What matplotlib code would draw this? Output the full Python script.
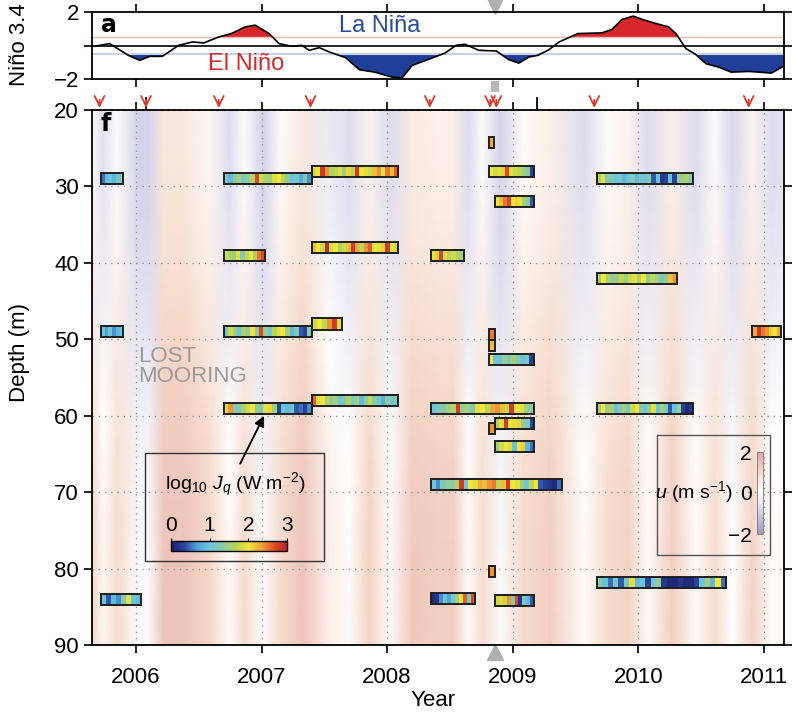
import numpy as np
import matplotlib.pyplot as plt
from matplotlib.colors import LinearSegmentedColormap
from matplotlib.patches import Rectangle
from matplotlib.cm import ScalarMappable
from matplotlib.colors import Normalize

plt.rcParams['font.family'] = ['Liberation Sans', 'DejaVu Sans']
plt.rcParams['mathtext.fontset'] = 'custom'
plt.rcParams['mathtext.rm'] = 'Liberation Sans'
plt.rcParams['mathtext.it'] = 'Liberation Sans:italic'

# Nino 3.4 index
nino_years = [2005.67, 2005.79, 2005.94, 2006.03, 2006.11, 2006.21, 2006.34, 2006.45, 2006.54,
              2006.66, 2006.76, 2006.87, 2006.95, 2007.06, 2007.14, 2007.24, 2007.32, 2007.38,
              2007.46, 2007.54, 2007.67, 2007.78, 2007.90, 2008.04, 2008.12, 2008.20, 2008.33,
              2008.46, 2008.55, 2008.62, 2008.73, 2008.87, 2008.97, 2009.05, 2009.13, 2009.20,
              2009.29, 2009.37, 2009.52, 2009.71, 2009.79, 2009.87, 2009.96, 2010.05, 2010.16,
              2010.24, 2010.30, 2010.38, 2010.45, 2010.54, 2010.64, 2010.74, 2010.88, 2010.96,
              2011.06, 2011.18]
nino_values = [-0.04, 0.12, -0.58, -0.88, -0.64, -0.64, 0.02, 0.22, 0.16,
               0.52, 0.72, 1.12, 1.22, 0.72, 0.12, -0.04, 0.02, -0.28,
               -0.12, -0.38, -0.72, -1.44, -1.58, -1.88, -1.92, -1.18, -0.82,
               -0.45, 0.02, 0.08, -0.28, -0.32, -0.84, -1.04, -0.68, -0.58,
               -0.24, 0.22, 0.72, 0.76, 0.96, 1.56, 1.76, 1.52, 1.28,
               1.12, 0.72, -0.18, -0.48, -1.08, -1.28, -1.58, -1.54, -1.58,
               -1.64, -1.14]

# background zonal velocity u (m/s): time nodes, upper-layer values, depth offsets
u_years = [2005.65, 2005.74, 2005.85, 2006.02, 2006.10, 2006.22, 2006.38, 2006.58, 2006.75,
           2006.86, 2007.01, 2007.15, 2007.33, 2007.54, 2007.70, 2007.86, 2008.02, 2008.20,
           2008.40, 2008.53, 2008.65, 2008.76, 2008.90, 2009.08, 2009.30, 2009.57, 2009.76,
           2009.92, 2010.08, 2010.27, 2010.46, 2010.61, 2010.75, 2010.91, 2011.06, 2011.17]
u_upper = [0.2, -0.6, 0.1, -0.9, -0.9, 0.6, 0.6, 0.2, -0.7,
           0.1, -0.9, 0.1, 0.6, -0.4, -0.7, 0.3, -0.7, 0.5,
           0.4, 0.4, -0.7, 0.1, -0.9, 0.1, 0.4, -0.7, 0.1,
           0.3, -0.7, 0.4, -0.7, 0.1, -0.8, 0.3, -0.7, -0.6]
u_depths = [20, 25, 30, 35, 40, 45, 50, 55, 60, 65, 70, 75, 80, 85, 90]
u_offset = [0.0, 0.0, 0.05, 0.12, 0.2, 0.3, 0.4, 0.5, 0.6, 0.68, 0.75, 0.78, 0.8, 0.8, 0.8]

# turbulent heat flux segments, log10 Jq
bar_start = [2005.72, 2006.70, 2007.40, 2006.70, 2007.40, 2005.72, 2006.70, 2007.40, 2006.70,
             2007.40, 2005.72, 2008.81, 2008.81, 2008.86, 2008.35, 2008.81, 2008.81, 2008.81,
             2008.35, 2008.86, 2008.81, 2008.86, 2008.35, 2008.81, 2008.35, 2008.86, 2009.67,
             2009.67, 2009.67, 2009.67, 2010.91]
bar_end = [2005.90, 2007.40, 2008.09, 2007.03, 2008.09, 2005.90, 2007.40, 2007.64, 2007.40,
           2008.09, 2006.04, 2008.85, 2009.17, 2009.17, 2008.61, 2008.86, 2008.86, 2009.17,
           2009.17, 2009.17, 2008.86, 2009.17, 2009.39, 2008.86, 2008.70, 2009.17, 2010.44,
           2010.31, 2010.44, 2010.70, 2011.14]
bar_depth = [29.0, 29.0, 28.0, 39.0, 38.0, 49.0, 49.0, 48.0, 59.0,
             58.0, 84.0, 24.2, 28.0, 32.0, 39.0, 49.4, 50.8, 52.7,
             59.0, 61.0, 61.7, 64.0, 69.0, 80.4, 83.9, 84.2, 29.0,
             42.0, 59.0, 81.8, 49.0]
bar_values = [
    [0.5, 0.9, 1.0, 0.9, 1.1, 1.3],
    [1.1, 0.9, 1.3, 1.5, 1.2, 1.4, 1.6, 2.7, 1.8, 1.6, 1.5, 1.9, 2.0, 1.7, 1.4, 1.0, 1.1, 0.8, 1.2, 0.6],
    [1.8, 2.0, 2.8, 2.4, 1.6, 1.7, 1.9, 1.5, 2.1, 1.7, 2.8, 2.0, 1.9, 1.8, 2.2, 2.4, 1.9, 2.5, 2.2, 2.6],
    [1.8, 1.6, 1.5, 1.9, 1.3, 1.7, 2.0, 1.6, 2.5, 2.7],
    [2.2, 2.0, 1.8, 2.9, 1.9, 2.0, 1.6, 1.8, 2.2, 2.8, 2.3, 1.7, 2.4, 2.6, 2.0, 1.9, 2.1, 2.8, 2.0, 1.8],
    [1.0, 0.7, 1.1, 0.6, 0.9, 1.0],
    [1.1, 1.8, 1.5, 1.0, 1.6, 1.4, 2.0, 1.3, 2.7, 1.4, 1.1, 1.7, 1.9, 2.0, 1.5, 0.9, 1.2, 0.4, 0.3, 1.3],
    [1.8, 2.0, 1.7, 2.4, 2.8, 1.9],
    [1.9, 2.4, 1.3, 1.2, 1.6, 1.8, 2.0, 1.4, 1.2, 1.9, 2.1, 1.5, 0.3, 1.0, 0.9, 1.1, 0.4, 0.5, 0.3, 0.6],
    [2.6, 1.9, 2.0, 1.6, 1.4, 1.5, 1.0, 1.3, 1.6, 1.2, 1.5, 0.9, 1.4, 1.7, 1.3, 1.1, 0.8, 1.3, 1.1, 1.2],
    [1.0, 0.4, 0.9, 0.6, 1.3, 1.9, 1.0, 0.9],
    [2.3],
    [2.0, 1.8, 1.9, 2.1, 2.7, 1.9, 1.8, 1.7, 1.5, 1.3, 0.3],
    [2.0, 2.2, 2.5, 2.7, 2.0, 2.1, 1.9, 1.6, 1.3, 0.4],
    [1.9, 2.1, 2.7, 1.9, 1.7, 1.8, 1.6, 1.5],
    [2.5],
    [2.2],
    [2.0, 1.0, 1.1, 1.4, 1.2, 1.5, 1.3, 1.0, 1.2, 0.3],
    [1.0, 1.2, 1.3, 1.5, 1.6, 2.8, 1.4, 1.5, 1.3, 1.9, 2.0, 1.7, 2.3, 2.4, 2.2, 1.8, 2.8, 2.0, 1.9, 1.5, 1.3],
    [1.6, 1.9, 2.8, 2.0, 1.9, 2.1, 1.4, 1.2, 0.3],
    [2.4],
    [1.5, 1.8, 2.0, 1.9, 1.0, 2.0, 2.1, 0.9, 0.5],
    [1.0, 0.6, 1.2, 1.4, 1.3, 1.6, 2.8, 1.1, 2.0, 1.9, 2.3, 2.2, 2.4, 2.5, 1.7, 2.2, 2.8, 2.0, 1.9, 1.5,
     1.1, 1.7, 2.0, 0.4, 0.3, 0.2, 0.1, 0.5],
    [2.4],
    [0.1, 0.2, 0.6, 1.0, 0.7, 1.1, 1.5, 2.0, 2.6, 1.2, 2.7],
    [1.8, 2.1, 1.7, 2.4, 1.3, 2.7, 0.2, 1.1, 0.9, 0.4],
    [1.6, 1.9, 1.3, 1.2, 1.0, 1.1, 0.9, 1.0, 1.2, 0.9, 1.1, 1.0, 1.3, 0.4, 1.0, 0.2, 0.3, 1.0, 0.3, 1.4,
     1.5, 1.6, 1.2],
    [1.5, 2.0, 1.6, 1.4, 1.5, 1.7, 1.5, 1.8, 1.9, 1.6, 2.0, 1.4, 1.7, 1.5, 1.2, 1.4, 2.2, 2.4],
    [1.5, 2.0, 1.4, 1.6, 1.0, 1.3, 1.5, 1.2, 1.8, 2.0, 1.3, 1.1, 1.4, 1.9, 1.0, 1.5, 1.2, 0.4, 1.0, 1.4,
     0.3, 0.1, 0.2],
    [1.3, 1.0, 0.5, 1.1, 0.4, 1.2, 1.9, 0.9, 1.0, 0.3, 1.1, 1.4, 0.2, 0.1, 0.1, 0.2, 0.1, 0.1, 0.3, 1.0,
     1.5, 0.9, 2.0, 0.5],
    [2.3, 2.8, 2.5, 2.4, 2.1, 2.0, 2.3],
]

# mooring deployment times (red arrows) and other markers
deploy_years = [2005.71, 2006.08, 2006.66, 2007.39, 2008.34, 2008.82, 2008.87, 2009.65, 2010.88]
black_marks = [2006.08, 2009.19]
event_year = 2008.86

years = [2006, 2007, 2008, 2009, 2010, 2011]
depth_ticks = [20, 30, 40, 50, 60, 70, 80, 90]

jq_cmap = LinearSegmentedColormap.from_list('jq', ['#1c1f6b', '#2a46a0', '#4f9fd6', '#6cc4dc', '#8dc9a6',
                                                    '#b6d45a', '#f2e43a', '#f0a53a', '#e04e2a', '#b51f24'])
u_cmap = LinearSegmentedColormap.from_list('u', ['#9a9ac8', '#cdcde6', '#ffffff', '#f5d8c8', '#e4a6a6'])

fig = plt.figure(figsize=(7.98, 7.13), dpi=100)
ax_top = fig.add_axes([0.1153, 0.889, 0.867, 0.094])
ax = fig.add_axes([0.1153, 0.0954, 0.867, 0.7503])
xlim = (2005.65, 2011.16)

# ---- top panel
nv = np.array(nino_values)
ax_top.fill_between(nino_years, 0.5, nv, where=nv > 0.5, interpolate=True, color='#d7272a', lw=0)
ax_top.fill_between(nino_years, -0.5, nv, where=nv < -0.5, interpolate=True, color='#1f3f99', lw=0)
ax_top.axhline(0.5, color='#f0b8b0', lw=1)
ax_top.axhline(-0.5, color='#c8d2e6', lw=1.5)
ax_top.axhline(0, color='black', lw=1.2)
ax_top.plot(nino_years, nino_values, color='black', lw=1.2)
ax_top.set_xlim(xlim)
ax_top.set_ylim(-2, 2)
ax_top.set_xticks(years)
ax_top.set_xticklabels([])
ax_top.set_yticks([-2, 0, 2], ['\u22122', '', '2'])
ax_top.tick_params(axis='both', direction='out', length=6, width=1.2, labelsize=16,
                   top=True, right=True)
for s in ax_top.spines.values():
    s.set_linewidth(1.3)
ax_top.text(2005.72, 1.25, 'a', fontsize=17, fontweight='bold', va='center', family='DejaVu Sans')
ax_top.text(2007.94, 1.15, 'La Niña', color='#2b4b9b', fontsize=17, ha='center', va='center')
ax_top.text(2006.88, -1.1, 'El Niño', color='#d62a2a', fontsize=17, ha='center', va='center')
ax_top.plot(event_year, 2.35, marker='v', color='#b0b0b0', ms=11, clip_on=False)
ax_top.plot([event_year, event_year], [-2.1, -2.75], color='#b8b8b8', lw=6,
            solid_capstyle='butt', clip_on=False)
fig.text(0.024, 0.937, 'Niño 3.4', rotation=90, ha='center', va='center', fontsize=16)

# ---- main panel background
field = np.array(u_upper)[None, :] + np.array(u_offset)[:, None]
ax.pcolormesh(u_years, u_depths, field, shading='gouraud', cmap=u_cmap, vmin=-2, vmax=2, zorder=0)

# heat flux segments
h = 1.45
for t0, t1, d, vals in zip(bar_start, bar_end, bar_depth, bar_values):
    xe = np.linspace(t0, t1, len(vals) + 1)
    ax.pcolormesh(xe, [d - h / 2, d + h / 2], [vals], cmap=jq_cmap, vmin=0, vmax=3, zorder=3)
    ax.add_patch(Rectangle((t0, d - h / 2), t1 - t0, h, fill=False, ec='#1e1e1e', lw=1.4, zorder=4))

ax.set_xlim(xlim)
ax.set_ylim(90, 20)
ax.set_xticks(years)
ax.set_yticks(depth_ticks)
ax.tick_params(axis='both', direction='out', length=6, width=1.2, labelsize=16,
               top=True, right=True)
ax.tick_params(axis='x', pad=10)
for s in ax.spines.values():
    s.set_linewidth(1.3)
ax.grid(True, ls=(0, (1, 4)), color='#8a8a8a', lw=0.9, zorder=2)

for t in deploy_years:
    ax.annotate('', xy=(t, 20.1), xytext=(t, 18.3), annotation_clip=False,
                arrowprops=dict(arrowstyle='->,head_length=0.45,head_width=0.22', color='#d93a2a',
                                lw=1.3, mutation_scale=16))
for t in black_marks:
    ax.plot([t, t], [18.4, 20], color='black', lw=1.3, clip_on=False)
ax.plot(event_year, 90.9, marker='^', color='#b0b0b0', ms=11, clip_on=False)

ax.text(2005.72, 21.8, 'f', fontsize=17, fontweight='bold', va='center', family='DejaVu Sans')
ax.text(2006.02, 53.6, 'LOST\nMOORING', color='#9a9a9a', fontsize=16, ha='left', va='center',
        linespacing=0.95)

# Jq legend
ax.add_patch(Rectangle((2006.07, 64.9), 1.43, 14.1, fill=False, ec='#333333', lw=1, zorder=5))
ax.text(2006.79, 69.1, r'log$_{10}$ $J_q$ (W m$^{-2}$)', fontsize=14, ha='center', va='center', zorder=6)
ax.annotate('', xy=(2007.03, 59.7), xytext=(2006.82, 66.6),
            arrowprops=dict(arrowstyle='-|>', color='black', lw=1.3, mutation_scale=15), zorder=6)
cax1 = fig.add_axes([171 / 798, 1 - 551 / 713, 116 / 798, 10 / 713])
cb1 = fig.colorbar(ScalarMappable(Normalize(0, 3), jq_cmap), cax=cax1, orientation='horizontal',
                   ticks=[0, 1, 2, 3])
cax1.xaxis.set_ticks_position('top')
cax1.tick_params(labelsize=15, length=2, pad=2)
cb1.outline.set_linewidth(1)

# u legend
ax.add_patch(Rectangle((2010.15, 62.5), 0.90, 15.7, fill=False, ec='#555555', lw=1, zorder=5))
ax.text(2010.44, 70.0, r'$u$ (m s$^{-1}$)', fontsize=14, ha='center', va='center', zorder=6)
cax2 = fig.add_axes([757 / 798, 1 - 534 / 713, 6 / 798, 82 / 713])
cb2 = fig.colorbar(ScalarMappable(Normalize(-2, 2), u_cmap), cax=cax2, ticks=[-2, 0, 2])
cax2.yaxis.set_ticks_position('left')
cax2.set_yticklabels(['\u22122', '0', '2'])
cax2.tick_params(labelsize=15, length=0, pad=4)
cb2.outline.set_linewidth(0.6)
cb2.outline.set_edgecolor('#777777')

fig.text(0.024, 0.506, 'Depth (m)', rotation=90, ha='center', va='center', fontsize=16)
fig.text(0.543, 0.018, 'Year', ha='center', va='center', fontsize=16)

fig.savefig('out.png', dpi=100)
